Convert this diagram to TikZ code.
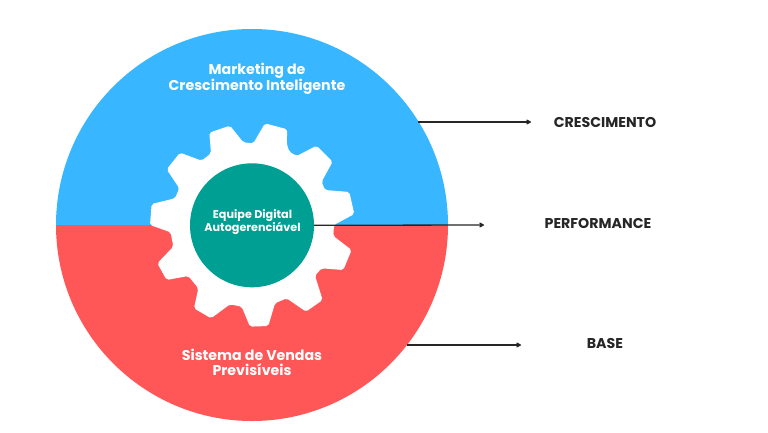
\documentclass[tikz,border=0pt]{standalone}
\usepackage{fontspec}
\setmainfont{Poppins}
\usetikzlibrary{arrows.meta}
\definecolor{topblue}{HTML}{38B6FF}
\definecolor{basered}{HTML}{FF5757}
\definecolor{coreteal}{HTML}{009F94}
\definecolor{inkdark}{HTML}{262626}
\tikzset{
  x=1pt,y=-1pt,
  halftext/.style={text=white,font=\bfseries\fontsize{14.2}{15}\selectfont,align=center,inner sep=0pt},
  sidelabel/.style={text=inkdark,font=\bfseries\fontsize{14.2}{15}\selectfont,inner sep=0pt},
  conn/.style={draw=inkdark,line width=1.3pt,-{Stealth[length=6pt,width=6.5pt,round]}},
  gearshape/.style={fill=white,rounded corners=2pt}
}
\begin{document}
\begin{tikzpicture}
\useasboundingbox (0,0) rectangle (768,432);
\fill[white] (0,0) rectangle (768,432);
% two halves of the disc
\fill[topblue] (56,225) arc[start angle=180,end angle=0,radius=196pt] -- cycle;
\fill[basered] (56,225) arc[start angle=180,end angle=360,radius=196pt] -- cycle;
% gear (reference zoom coordinates: x=130+u/3, y=110+v/3)
\begin{scope}[shift={(130,110)},x=0.3333pt,y=-0.3333pt]
\fill[gearshape] (405,40)--(472,58)--(470,100)--(478,125)--(500,138)--(560,107)--(608,155)--(575,215)--(585,240)--(658,246)--(673,312)--(612,345)--(610,378)--(665,420)--(640,480)--(575,475)--(555,497)--(578,570)--(528,605)--(470,565)--(435,580)--(415,648)--(360,650)--(335,590)--(300,583)--(243,625)--(192,595)--(205,535)--(175,498)--(110,510)--(82,460)--(130,410)--(122,367)--(60,345)--(65,282)--(135,265)--(148,235)--(110,178)--(150,128)--(215,152)--(243,130)--(238,68)--(300,47)--(340,97)--(370,100)--cycle;
\end{scope}
% connector free ends
\coordinate (a1) at (418,122);
\coordinate (a2) at (531,122);
\coordinate (c2) at (484,225);
\coordinate (b1) at (407,345);
\coordinate (b2) at (521,345);
\node[circle,fill=coreteal,minimum size=124pt,inner sep=0pt] (core) at (252,225.3) {};
\draw[conn] (core.east) -- (c2);
\draw[conn] (a1) -- (a2);
\draw[conn] (b1) -- (b2);
\node[text=white,font=\bfseries\fontsize{11.2}{12.4}\selectfont,align=center,inner sep=0pt] (coretext) at (252.5,222) {Equipe Digital\\Autogerenciável};
\node[halftext] (mkt) at (257,79) {Marketing de\\Crescimento Inteligente};
\node[halftext] (sis) at (252,362) {Sistema de Vendas\\Previsíveis};
\node[sidelabel] (l1) at (605,122) {CRESCIMENTO};
\node[sidelabel] (l2) at (598,223) {PERFORMANCE};
\node[sidelabel] (l3) at (605,343.5) {BASE};
\end{tikzpicture}
\end{document}
